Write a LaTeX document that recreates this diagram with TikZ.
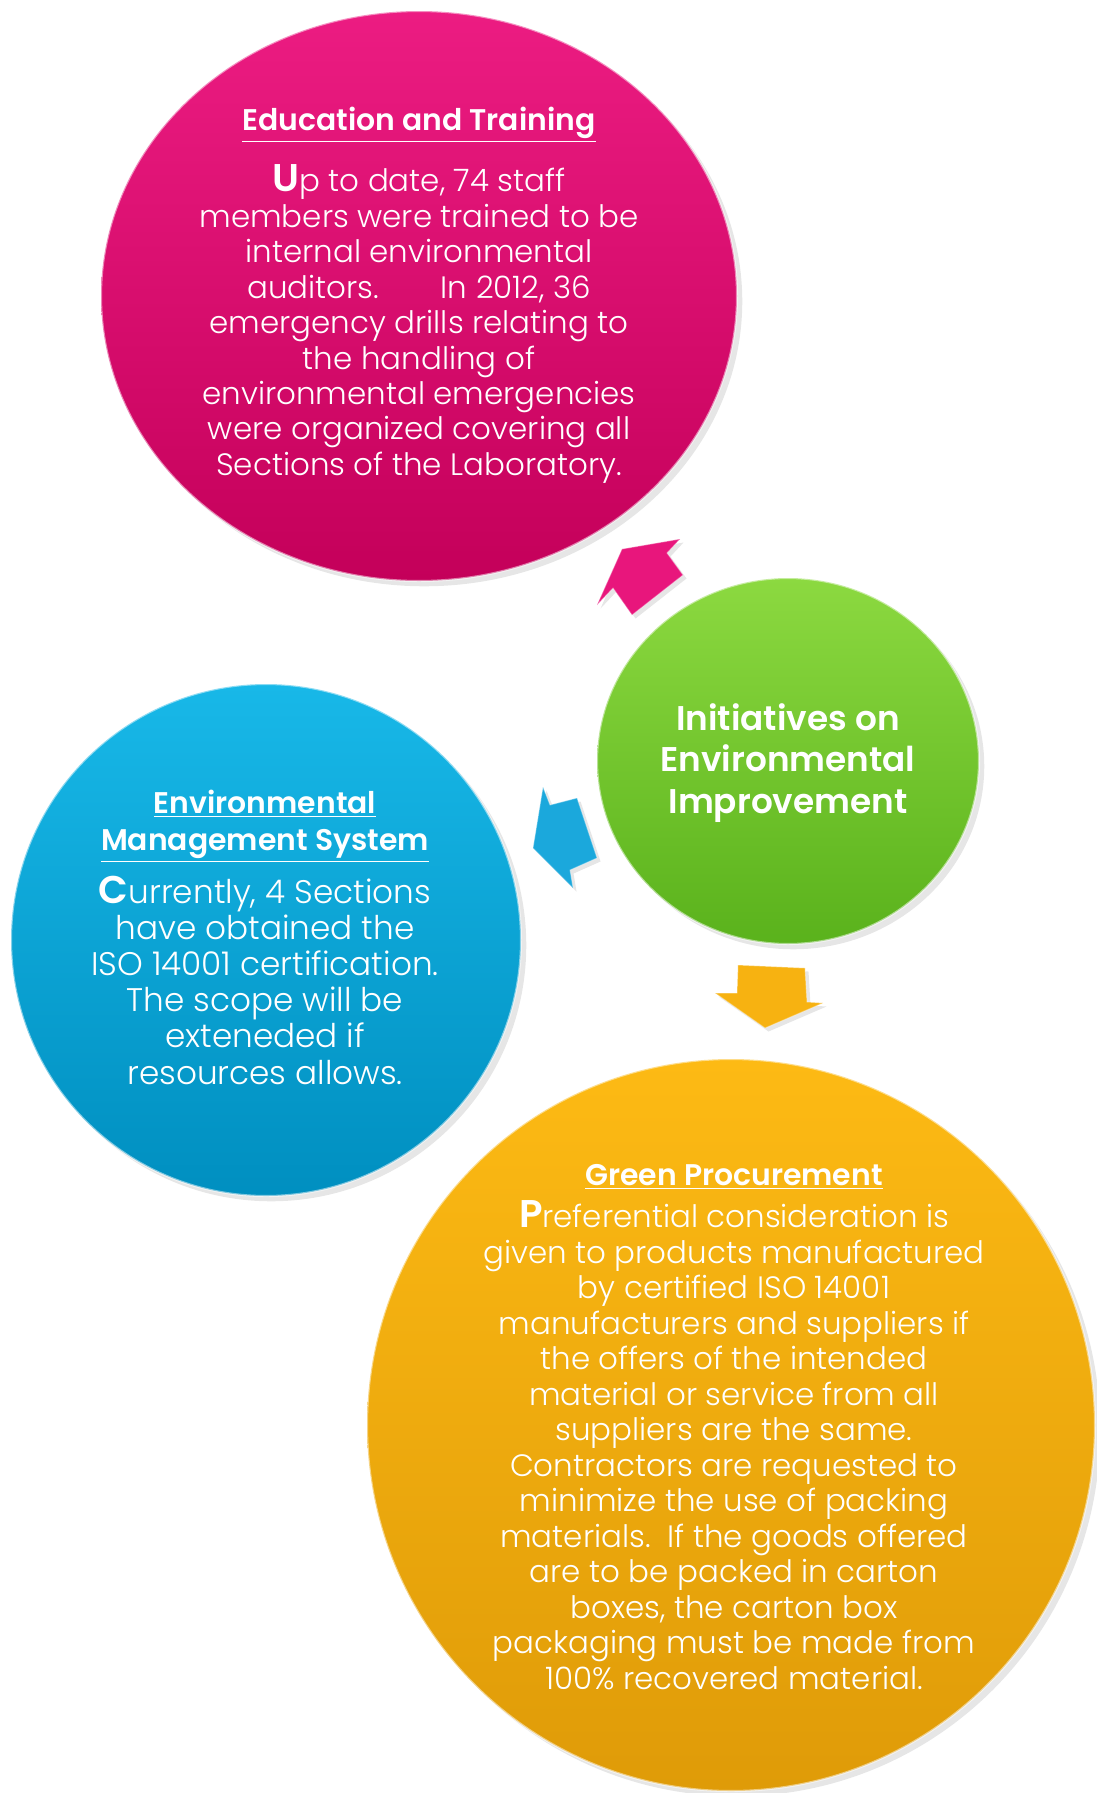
\documentclass[tikz,border=0pt]{standalone}
\usepackage{fontspec}
\setmainfont{Poppins}[UprightFont=* Light, BoldFont=* SemiBold]
\usepackage{tikz}
\usetikzlibrary{shadows}
\definecolor{pinkTop}{HTML}{EC1C82}
\definecolor{pinkBot}{HTML}{C4005A}
\definecolor{greenTop}{HTML}{8CD940}
\definecolor{greenBot}{HTML}{5AB21C}
\definecolor{blueTop}{HTML}{18B8E8}
\definecolor{blueBot}{HTML}{008FC0}
\definecolor{orangeTop}{HTML}{FDBA14}
\definecolor{orangeBot}{HTML}{DF9B08}
\definecolor{pinkArr}{HTML}{E8167C}
\definecolor{blueArr}{HTML}{1BA8DC}
\definecolor{orangeArr}{HTML}{F7B211}
\tikzset{
  bubble/.style={draw=white, draw opacity=0.5, line width=1.2pt,
    drop shadow={opacity=0.2, shadow xshift=3pt, shadow yshift=-3pt}},
  barrow/.style={draw=white, draw opacity=0.35, line width=0.6pt, line join=round,
    drop shadow={opacity=0.2, shadow xshift=2pt, shadow yshift=-2pt}},
  ttl/.style={text=white, align=center, inner sep=0pt, font=\bfseries\fontsize{17}{21}\selectfont},
  body/.style={text=white, align=center, inner sep=0pt, font=\fontsize{17.6}{20.2}\selectfont},
  hub/.style={text=white, align=center, inner sep=0pt, font=\bfseries\fontsize{19.5}{23.6}\selectfont}
}
\newcommand{\bigfirst}[1]{{\bfseries\fontsize{22}{20}\selectfont #1}}

\begin{document}
\begin{tikzpicture}[x=0.02cm, y=-0.02cm]
  \useasboundingbox (0,0) rectangle (1097,1793);
  % bubbles
  \shade[bubble, top color=pinkTop, bottom color=pinkBot] (419,296) ellipse [x radius=318, y radius=285];
  \shade[bubble, top color=greenTop, bottom color=greenBot] (788,761) ellipse [x radius=191, y radius=183];
  \shade[bubble, top color=blueTop, bottom color=blueBot] (266,940) ellipse [x radius=255, y radius=256];
  \shade[bubble, top color=orangeTop, bottom color=orangeBot] (731,1425) ellipse [x radius=364, y radius=366];
  % block arrows
  \fill[barrow, fill=pinkArr] (622,549) -- (680,539) -- (667,553) -- (683,575)
    -- (632,615) -- (613,588) -- (597,605) -- cycle;
  \fill[barrow, fill=blueArr] (533,848) -- (543,787) -- (550,805) -- (577,798)
    -- (597,858) -- (570,870) -- (573,888) -- cycle;
  \fill[barrow, fill=orangeArr] (765,1028) -- (715,993) -- (737,993) -- (738,965)
    -- (805,968) -- (807,1002) -- (823,1003) -- cycle;
  % texts
  \node[ttl] (eduTitle) at (419,125) {\underline{Education and Training}};
  \node[body] (eduText) at (419,324) {\bigfirst{U}p to date, 74 staff\\
    members were trained to be\\ internal environmental\\
    auditors.\hspace{2em}In 2012, 36\\ emergency drills relating to\\
    the handling of\\ environmental emergencies\\
    were organized covering all\\ Sections of the Laboratory.};
  \node[hub] (hubText) at (788,763) {Initiatives on\\ Environmental\\ Improvement};
  \node[ttl] (emsTitle) at (265,826) {\underline{Environmental}\\ \underline{Management System}};
  \node[body, font=\fontsize{18.6}{20.6}\selectfont] (emsText) at (265,980) {\bigfirst{C}urrently, 4 Sections\\
    have obtained the\\ ISO 14001 certification.\\ The scope will be\\
    exteneded if\\ resources allows.};
  \node[ttl] (gpTitle) at (734,1177) {\underline{Green Procurement}};
  \node[body] (gpText) at (734,1445) {\bigfirst{P}referential consideration is\\
    given to products manufactured\\ by certified ISO 14001\\
    manufacturers and suppliers if\\ the offers of the intended\\
    material or service from all\\ suppliers are the same.\\
    Contractors are requested to\\ minimize the use of packing\\
    materials.\ \ If the goods offered\\ are to be packed in carton\\
    boxes, the carton box\\ packaging must be made from\\
    100\% recovered material.};
\end{tikzpicture}
\end{document}
